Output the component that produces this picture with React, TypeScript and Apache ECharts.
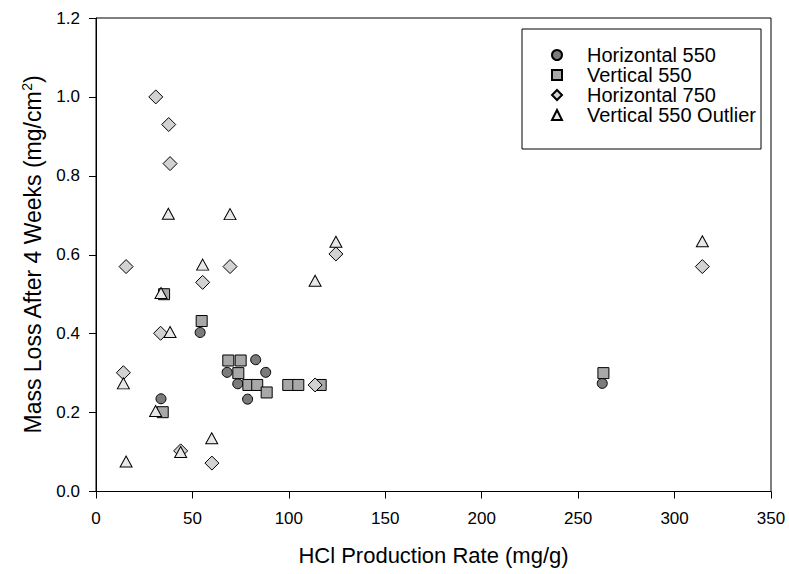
import React, { useEffect, useRef } from "react";
import * as echarts from "echarts";

const seriesNames = ["Horizontal 550", "Vertical 550", "Horizontal 750", "Vertical 550 Outlier"];

const horizontal550: [number, number][] = [
  [33.7, 0.235], [54, 0.403], [68, 0.302], [73.5, 0.273], [78.6, 0.234],
  [82.8, 0.334], [88, 0.302], [262.5, 0.274],
];
const vertical550: [number, number][] = [
  [35.3, 0.5], [34.6, 0.201], [54.8, 0.432], [68.6, 0.332], [75, 0.332],
  [73.8, 0.3], [79, 0.27], [83.6, 0.27], [88.5, 0.251], [99.7, 0.27],
  [104.9, 0.27], [116.5, 0.27], [263.1, 0.3],
];
const horizontal750: [number, number][] = [
  [31, 1.0], [37.7, 0.93], [38.4, 0.831], [15.6, 0.57], [69.5, 0.57],
  [55.3, 0.53], [33.5, 0.401], [14.2, 0.301], [43.9, 0.103], [60.1, 0.072],
  [124.4, 0.602], [113.6, 0.27], [314.4, 0.57],
];
const vertical550Outlier: [number, number][] = [
  [69.5, 0.703], [37.5, 0.704], [55.3, 0.575], [33.7, 0.503], [38.4, 0.404],
  [14.2, 0.274], [30.9, 0.204], [15.6, 0.076], [43.9, 0.1], [60, 0.135],
  [113.6, 0.534], [124.4, 0.633], [314.4, 0.634],
];

const xMin = 0, xMax = 350, xInterval = 50;
const yMin = 0, yMax = 1.2, yInterval = 0.2;

const FONT = "Liberation Sans, Arial, sans-serif";

export default function App() {
  const ref = useRef<HTMLDivElement>(null);
  useEffect(() => {
    if (!ref.current) return;
    const chart = echarts.init(ref.current, null, { renderer: "svg" });
    const mk = (name: string, data: [number, number][], symbol: string, size: any, color: string) => ({
      name,
      type: "scatter",
      data,
      symbol,
      symbolSize: size,
      itemStyle: { color, borderColor: "#000", borderWidth: 1, opacity: 1 },
      emphasis: { disabled: true },
    });
    chart.setOption({
      animation: false,
      textStyle: { fontFamily: FONT },
      grid: {
        left: 96, right: 18, top: 18, bottom: 82.5,
        show: true, borderColor: "#000", borderWidth: 1, backgroundColor: "transparent",
      },
      graphic: [
        {
          type: "rect",
          shape: { x: 522, y: 29, width: 239, height: 120 },
          style: { fill: "#fff", stroke: "#000", lineWidth: 1 },
          z: 50,
        },
      ],
      legend: {
        orient: "vertical",
        left: 551,
        top: 45,
        itemWidth: 10,
        itemHeight: 10,
        itemGap: 0,
        padding: 0,
        z: 60,
        textStyle: { fontSize: 20, lineHeight: 20, color: "#000", fontFamily: FONT, padding: [0, 0, 0, 20] },
        data: seriesNames,
      },
      xAxis: {
        type: "value",
        min: xMin, max: xMax, interval: xInterval,
        name: "HCl Production Rate (mg/g)",
        nameLocation: "middle",
        nameGap: 53,
        nameTextStyle: { fontSize: 22, color: "#000", fontFamily: FONT },
        axisLine: { show: true, lineStyle: { color: "#000", width: 1 } },
        axisTick: { show: true, inside: false, length: 7, lineStyle: { color: "#000" } },
        axisLabel: { fontSize: 17, color: "#000", margin: 18, fontFamily: FONT },
        splitLine: { show: false },
      },
      yAxis: {
        type: "value",
        min: yMin, max: yMax, interval: yInterval,
        name: "Mass Loss After 4 Weeks (mg/cm{sup|2})",
        nameLocation: "middle",
        nameGap: 48,
        nameTextStyle: {
          fontSize: 23, color: "#000", fontFamily: FONT, lineHeight: 25,
          rich: { sup: { fontSize: 14, color: "#000", fontFamily: FONT, verticalAlign: "top", lineHeight: 25, padding: [0, 0, 10, 0] } },
        },
        axisLine: { show: true, lineStyle: { color: "#000", width: 1 } },
        axisTick: { show: true, inside: false, length: 7, lineStyle: { color: "#000" } },
        axisLabel: {
          fontSize: 17, color: "#000", margin: 16, fontFamily: FONT,
          formatter: (v: number) => v.toFixed(1),
        },
        splitLine: { show: false },
      },
      series: [
        mk(seriesNames[0], horizontal550, "circle", 10, "#7b7b7b"),
        mk(seriesNames[1], vertical550, "rect", 11, "#a8a8a8"),
        mk(seriesNames[2], horizontal750, "diamond", 14, "#d2d2d2"),
        mk(seriesNames[3], vertical550Outlier, "triangle", [12, 11], "#e8e8e8"),
      ],
    });
    return () => chart.dispose();
  }, []);
  return <div ref={ref} style={{ width: 789, height: 574, position: "absolute", left: 0, top: 0 }} />;
}
